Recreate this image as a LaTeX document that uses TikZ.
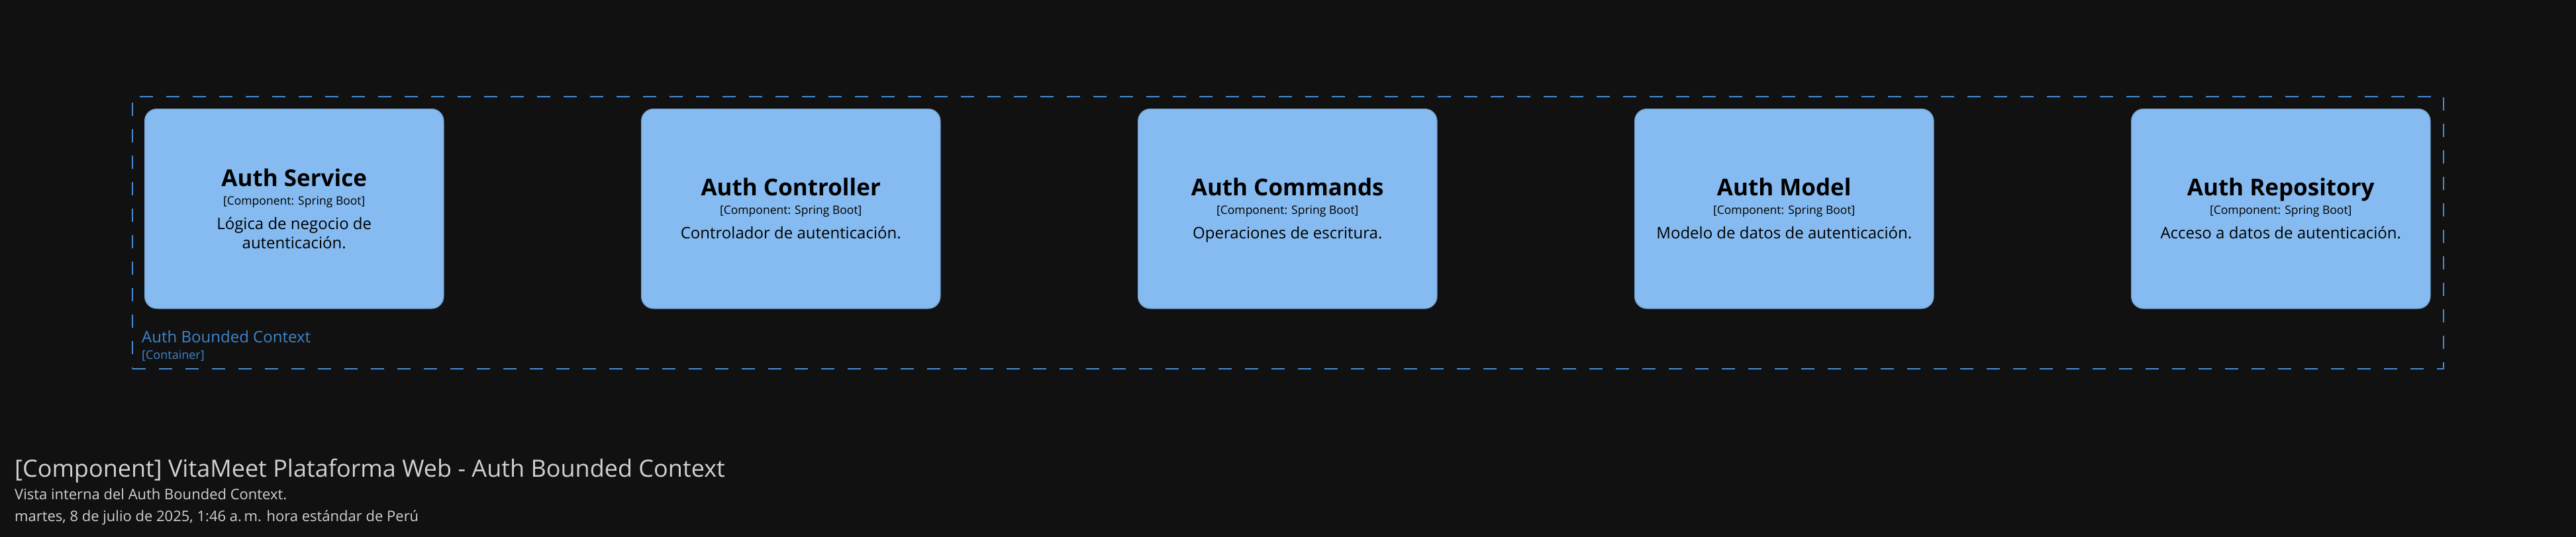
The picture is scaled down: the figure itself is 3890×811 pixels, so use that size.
\documentclass[tikz,border=0pt]{standalone}
\usepackage{fontspec}
\setmainfont{Open Sans}
\usetikzlibrary{calc}
\definecolor{bg}{HTML}{111111}
\definecolor{boxfill}{HTML}{85BBF0}
\definecolor{boxline}{HTML}{78A8DA}
\definecolor{ctrline}{HTML}{438DD5}
\definecolor{ctrtext}{HTML}{3F85CB}
\definecolor{captext}{HTML}{D0D0D0}
\begin{document}
\begin{tikzpicture}[x=1pt,y=-1pt,
  box/.style={draw=boxline,line width=1.5pt,fill=boxfill,rounded corners=18pt,
    minimum width=451pt,minimum height=301pt,anchor=north west,inner sep=0pt},
  ttl/.style={font=\bfseries\fontsize{35}{42}\selectfont,anchor=base,text=black,inner sep=0pt},
  tech/.style={font=\fontsize{17.5}{21}\selectfont,anchor=base,text=black,inner sep=0pt},
  desc/.style={font=\fontsize{24}{29}\selectfont,anchor=base,text=black,inner sep=0pt},
  ctr/.style={draw=ctrline,line width=2pt,dash pattern=on 20pt off 20pt,
    minimum width=3490pt,minimum height=411pt,anchor=north west,inner sep=0pt},
  ctrlbl/.style={font=\fontsize{24}{29}\selectfont,anchor=base west,text=ctrtext,inner sep=0pt},
  ctrsub/.style={font=\fontsize{18}{22}\selectfont,anchor=base west,text=ctrtext,inner sep=0pt},
  captxt/.style={anchor=base west,text=captext,inner sep=0pt}]
\fill[bg] (0,0) rectangle (3890,811);
\useasboundingbox (0,0) rectangle (3890,811);

\node[ctr] (ctx) at (199,145) {};
\node[ctrlbl] (ctxT) at (214,517) {Auth Bounded Context};
\node[ctrsub] (ctxS) at (214,542) {[Container]};

\node[box] (svc) at (218,164) {};
\node[box] (ctl) at (968,164) {};
\node[box] (cmd) at (1718,164) {};
\node[box] (mdl) at (2468,164) {};
\node[box] (rep) at (3218,164) {};

\node[ttl] (svcT) at ($(svc.center)+(0,-33.5)$) {Auth Service};
\node[tech] (svcK) at ($(svc.center)+(0,-5.5)$) {[Component: Spring Boot]};
\node[desc] (svcD1) at ($(svc.center)+(0,31.5)$) {Lógica de negocio de};
\node[desc] (svcD2) at ($(svc.center)+(0,60.5)$) {autenticación.};

\node[ttl] (ctlT) at ($(ctl.center)+(0,-19.5)$) {Auth Controller};
\node[tech] (ctlK) at ($(ctl.center)+(0,8.5)$) {[Component: Spring Boot]};
\node[desc] (ctlD) at ($(ctl.center)+(0,45.5)$) {Controlador de autenticación.};

\node[ttl] (cmdT) at ($(cmd.center)+(0,-19.5)$) {Auth Commands};
\node[tech] (cmdK) at ($(cmd.center)+(0,8.5)$) {[Component: Spring Boot]};
\node[desc] (cmdD) at ($(cmd.center)+(0,45.5)$) {Operaciones de escritura.};

\node[ttl] (mdlT) at ($(mdl.center)+(0,-19.5)$) {Auth Model};
\node[tech] (mdlK) at ($(mdl.center)+(0,8.5)$) {[Component: Spring Boot]};
\node[desc] (mdlD) at ($(mdl.center)+(0,45.5)$) {Modelo de datos de autenticación.};

\node[ttl] (repT) at ($(rep.center)+(0,-19.5)$) {Auth Repository};
\node[tech] (repK) at ($(rep.center)+(0,8.5)$) {[Component: Spring Boot]};
\node[desc] (repD) at ($(rep.center)+(0,45.5)$) {Acceso a datos de autenticación.};

\node[captxt,font=\fontsize{36}{42}\selectfont] (title) at (22,720) {[Component] VitaMeet Plataforma Web - Auth Bounded Context};
\node[captxt,font=\fontsize{22}{26}\selectfont] (sub) at (22,754) {Vista interna del Auth Bounded Context.};
\node[captxt,font=\fontsize{22}{26}\selectfont] (date) at (22,787) {martes, 8 de julio de 2025, 1:46 a.\,m. hora estándar de Perú};
\end{tikzpicture}
\end{document}
